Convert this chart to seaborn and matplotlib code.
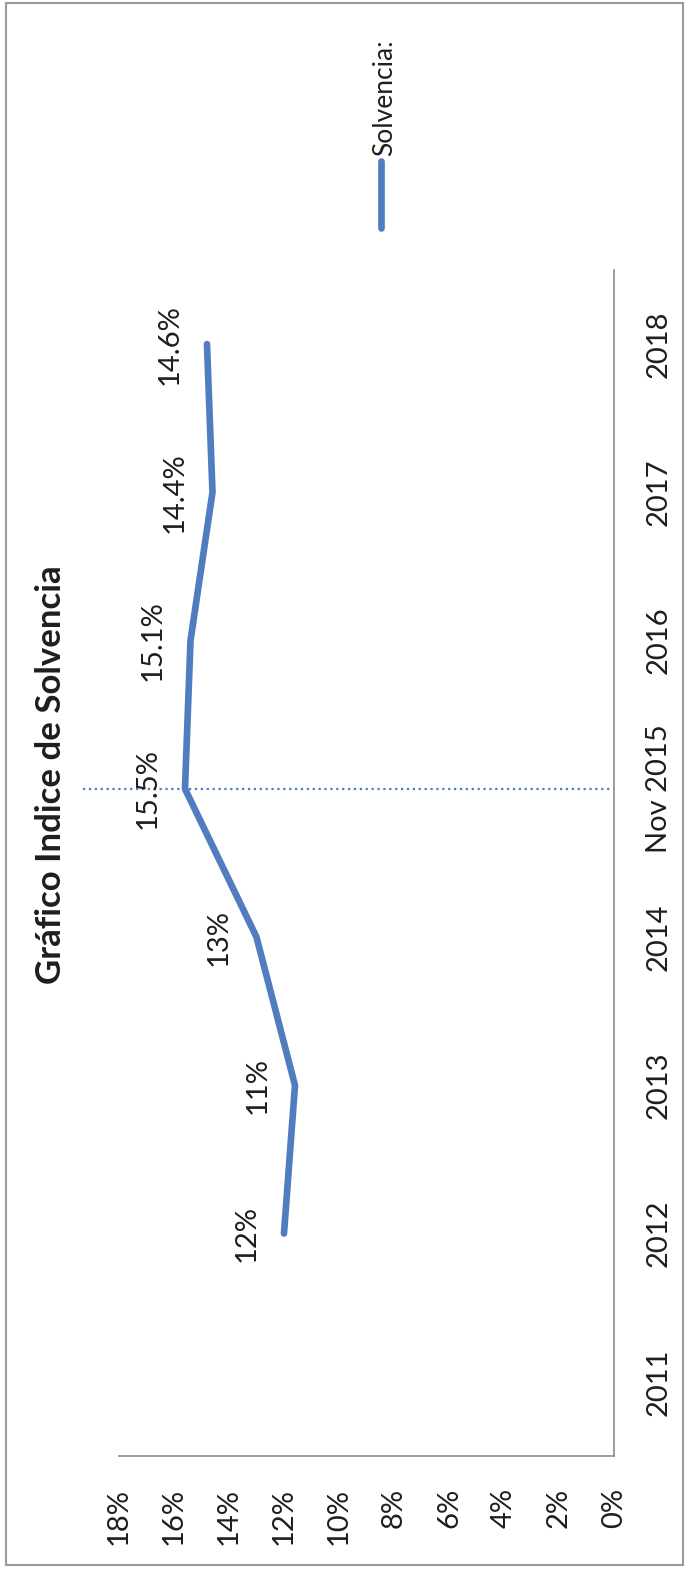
import matplotlib
matplotlib.use("Agg")
import matplotlib.pyplot as plt
from matplotlib.lines import Line2D
from matplotlib.patches import Rectangle
import numpy as np
import seaborn as sns

# datos del grafico
categorias = ["2011", "2012", "2013", "2014", "Nov 2015", "2016", "2017", "2018"]
solvencia = [np.nan, 12.0, 11.6, 13.0, 15.6, 15.4, 14.6, 14.8]
etiquetas = ["", "12%", "11%", "13%", "15.5%", "15.1%", "14.4%", "14.6%"]
ticks_pct = list(range(0, 19, 2))
marca_categoria = "Nov 2015"

azul = "#4F7DC0"
gris = "#8C8C8C"
texto = "#1E1E1E"

sns.set_theme(style="white")
plt.rcParams["font.family"] = ["Lato", "DejaVu Sans"]

fig = plt.figure(figsize=(6.89, 15.74), dpi=100)
fig.patch.set_facecolor("white")
ax = fig.add_axes([0.1727, 0.075, 0.7184, 0.7535])

pos = np.arange(len(categorias))
# el grafico esta girado 90 grados: valores en x, categorias en y
sns.lineplot(x=solvencia, y=pos, sort=False, estimator=None, color=azul,
             linewidth=4.8, ax=ax, solid_capstyle="round")

ax.set_xlim(18, 0)
ax.set_ylim(-0.5, len(categorias) - 0.5)

ax.set_xticks(ticks_pct)
ax.set_xticklabels([f"{t}%" for t in ticks_pct], rotation=90, fontsize=21, color=texto)
ax.yaxis.tick_right()
ax.set_yticks(pos)
ax.set_yticklabels(categorias, rotation=90, va="center", fontsize=21, color=texto)
ax.tick_params(axis="x", length=0, pad=23)
ax.tick_params(axis="y", length=0, pad=23)
ax.set_xlabel("")
ax.set_ylabel("")

for s in ["left", "top"]:
    ax.spines[s].set_visible(False)
for s in ["right", "bottom"]:
    ax.spines[s].set_color(gris)
    ax.spines[s].set_linewidth(1.2)

# linea punteada en Nov 2015
i_marca = categorias.index(marca_categoria)
ax.axhline(i_marca, xmin=-0.073, xmax=1.0, color=azul, linestyle=":",
           linewidth=1.6, clip_on=False)

# etiquetas de datos
for i, (v, t) in enumerate(zip(solvencia, etiquetas)):
    if np.isnan(v):
        continue
    ax.annotate(t, (v, i), xytext=(-27, 0), textcoords="offset points",
                rotation=90, ha="center", va="center", fontsize=21, color=texto)

# titulo
fig.text(51 / 689, 1 - 775 / 1574, "Gráfico Indice de Solvencia", rotation=90,
         ha="center", va="center", fontsize=25, fontweight="bold", color=texto)

# leyenda
fig.add_artist(Line2D([381 / 689, 381 / 689], [1 - 228 / 1574, 1 - 161 / 1574],
                      color=azul, linewidth=4.8, solid_capstyle="round"))
fig.text(385 / 689, 1 - 156 / 1574, "Solvencia:", rotation=90, ha="center",
         va="bottom", fontsize=19, color=texto)

# marco
fig.add_artist(Rectangle((6 / 689, 9 / 1574), 677 / 689, 1562 / 1574,
                         transform=fig.transFigure, fill=False,
                         edgecolor="#9A9A9A", linewidth=1.5))

fig.savefig("out.png", dpi=100)
